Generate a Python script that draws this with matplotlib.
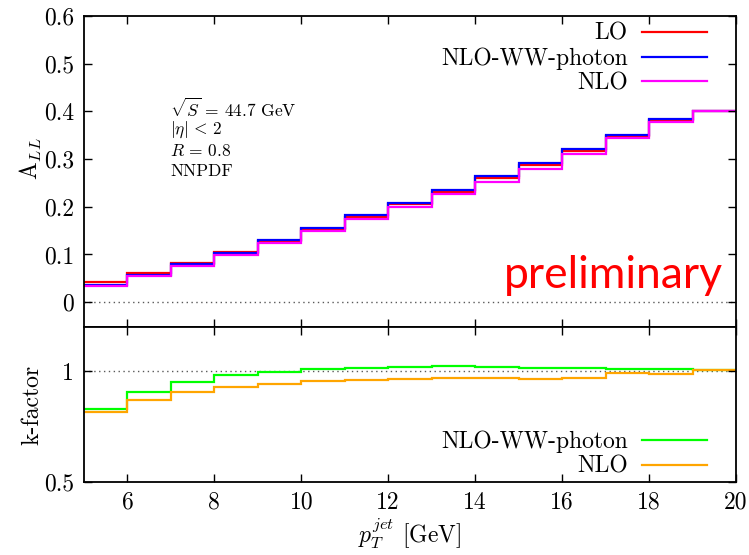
import matplotlib
matplotlib.use("Agg")
import matplotlib.pyplot as plt
from matplotlib.ticker import FixedLocator, FixedFormatter

plt.rcParams['font.family'] = 'serif'
plt.rcParams['font.serif'] = ['cmr10', 'DejaVu Serif']
plt.rcParams['mathtext.fontset'] = 'cm'
plt.rcParams['axes.formatter.use_mathtext'] = True
plt.rcParams['axes.unicode_minus'] = False

# ---- data ----
edges = [5, 6, 7, 8, 9, 10, 11, 12, 13, 14, 15, 16, 17, 18, 19, 20]
a_lo = [0.043, 0.062, 0.083, 0.106, 0.129, 0.153, 0.179, 0.2055, 0.2314,
        0.2608, 0.2867, 0.318, 0.3476, 0.381, 0.400]
a_nlo_ww = [0.036, 0.056, 0.0797, 0.1035, 0.1308, 0.1552, 0.1825, 0.2083,
            0.2349, 0.2643, 0.2909, 0.3217, 0.3503, 0.3846, 0.401]
a_nlo = [0.035, 0.0545, 0.0763, 0.099, 0.1237, 0.149, 0.174, 0.200, 0.2265,
         0.253, 0.2797, 0.3098, 0.344, 0.3776, 0.401]
k_nlo_ww = [0.828, 0.905, 0.952, 0.982, 0.998, 1.009, 1.015, 1.019, 1.023,
            1.020, 1.017, 1.015, 1.012, 1.011, 1.005]
k_nlo = [0.816, 0.869, 0.905, 0.927, 0.944, 0.955, 0.961, 0.964, 0.970,
         0.970, 0.965, 0.971, 0.991, 0.986, 1.005]

x_ticks = [6, 8, 10, 12, 14, 16, 18, 20]
x_ticklabels = ['6', '8', '10', '12', '14', '16', '18', '20']
top_yticks = [0, 0.1, 0.2, 0.3, 0.4, 0.5, 0.6]
top_yticklabels = ['0', '0.1', '0.2', '0.3', '0.4', '0.5', '0.6']
bot_yticks = [0.5, 1.0]
bot_yticklabels = ['0.5', '1']

FS = 17
fig = plt.figure(figsize=(7.49, 5.55), dpi=100)
ax1 = fig.add_axes([0.1121, 0.4108, 0.8705, 0.5604])
ax2 = fig.add_axes([0.1121, 0.1315, 0.8705, 0.2793])

lw = 1.6
ax1.stairs(a_lo, edges, baseline=None, color='#ff0000', lw=lw, label='LO')
ax1.stairs(a_nlo_ww, edges, baseline=None, color='#0000ff', lw=lw, label='NLO-WW-photon')
ax1.stairs(a_nlo, edges, baseline=None, color='#ff00ff', lw=lw, label='NLO')
ax1.axhline(0, color='0.35', lw=1.0, ls=(0, (1, 2.5)), zorder=0)

ax2.stairs(k_nlo_ww, edges, baseline=None, color='#00ff00', lw=lw, label='NLO-WW-photon')
ax2.stairs(k_nlo, edges, baseline=None, color='#ffa500', lw=lw, label='NLO')
ax2.axhline(1, color='0.35', lw=1.0, ls=(0, (1, 2.5)), zorder=0)

for ax in (ax1, ax2):
    ax.set_xlim(5, 20)
    ax.xaxis.set_major_locator(FixedLocator(x_ticks))
    ax.tick_params(which='both', direction='in', top=True, right=True,
                   length=6, width=1.0, labelsize=FS, pad=7)
    for s in ax.spines.values():
        s.set_linewidth(1.3)

ax1.set_ylim(-0.052, 0.6)
ax1.yaxis.set_major_locator(FixedLocator(top_yticks))
ax1.yaxis.set_major_formatter(FixedFormatter(top_yticklabels))
ax1.tick_params(labelbottom=False)

ax2.set_ylim(0.5, 1.2)
ax2.yaxis.set_major_locator(FixedLocator(bot_yticks))
ax2.yaxis.set_major_formatter(FixedFormatter(bot_yticklabels))
ax2.xaxis.set_major_formatter(FixedFormatter(x_ticklabels))

ax1.set_ylabel(r'A$_{LL}$', fontsize=FS)
ax2.set_ylabel('k-factor', fontsize=FS)
ax1.yaxis.set_label_coords(-0.062, 0.54)
ax2.yaxis.set_label_coords(-0.062, 0.5)
ax2.set_xlabel(r'$p_T^{jet}$ [GeV]', fontsize=FS, labelpad=2)

ax1.legend(loc='upper right', bbox_to_anchor=(0.9555, 0.978), frameon=False,
           markerfirst=False, fontsize=FS, handlelength=2.75,
           handletextpad=0.6, labelspacing=0.1, borderaxespad=0, borderpad=0)
ax2.legend(loc='upper right', bbox_to_anchor=(0.9555, 0.33), frameon=False,
           markerfirst=False, fontsize=FS, handlelength=2.75,
           handletextpad=0.6, labelspacing=0.1, borderaxespad=0, borderpad=0)

info = [r'$\sqrt{S}\,=\,44.7$ GeV', r'$|\eta|\,<\,2$', r'$R\,=\,0.8$', 'NNPDF']
for i, t in enumerate(info):
    ax1.text(0.132, 0.703 - i * 0.068, t, transform=ax1.transAxes,
             fontsize=12.5, va='center', ha='left')

ax1.text(0.980, 0.124, 'preliminary', transform=ax1.transAxes, color='#ff0000',
         fontsize=32, family='Lato', ha='right', va='baseline')

fig.savefig('out.png', dpi=100)
